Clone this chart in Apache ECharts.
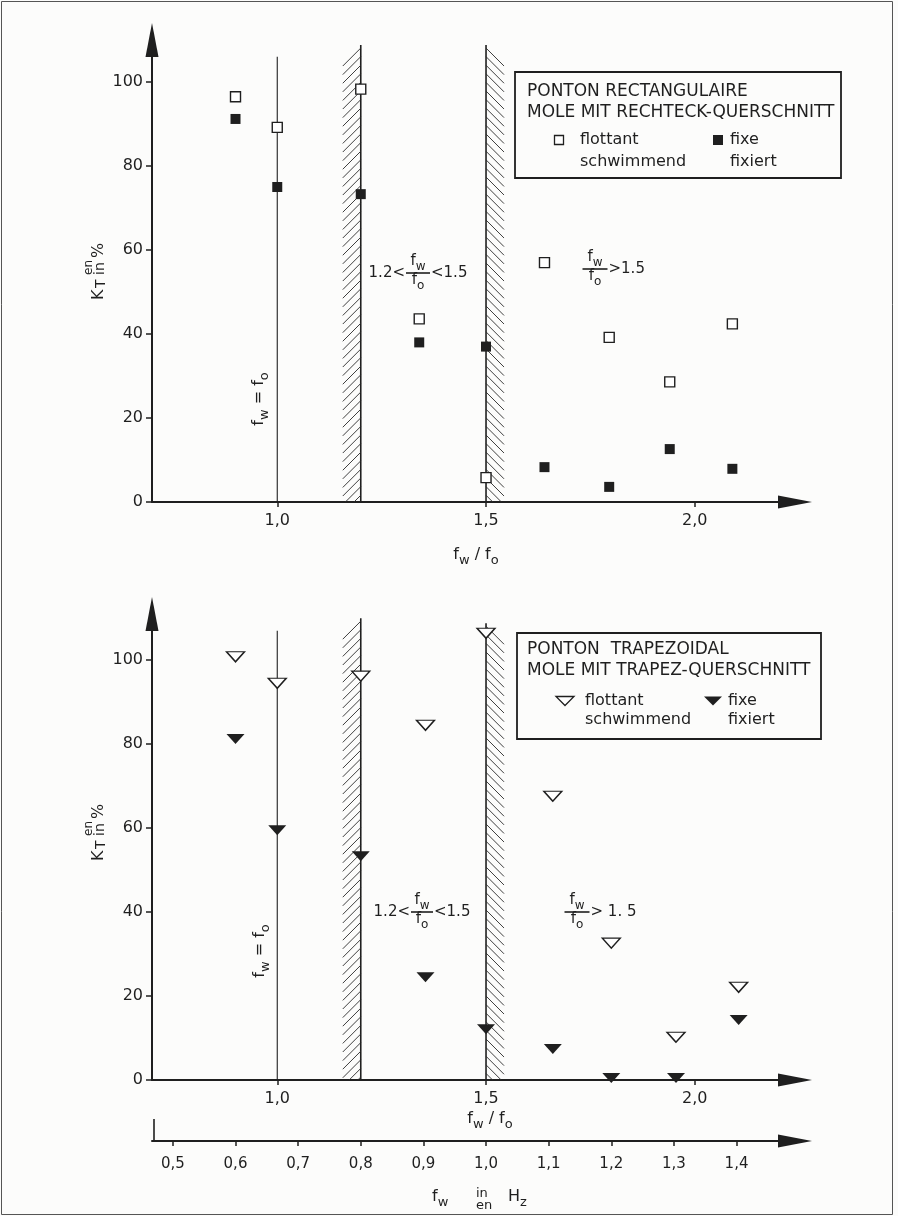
<!DOCTYPE html>
<html>
<head>
<meta charset="utf-8">
<title>KT en/in % - ponton rectangulaire / trapezoidal</title>
<script src="https://cdn.jsdelivr.net/npm/echarts@6.0.0/dist/echarts.min.js"></script>
<style>
  html, body { margin: 0; padding: 0; background: #fcfcfb; }
  #chart { width: 898px; height: 1216px; }
</style>
</head>
<body>
<div id="chart"></div>
<script>
// ---- data (x = fw/fo, y = KT in %) ----
var xRect = [0.9, 1.0, 1.2, 1.34, 1.5, 1.64, 1.795, 1.94, 2.09];
var rectFloating = [96.5, 89.2, 98.3, 43.6, 5.8, 57.0, 39.2, 28.6, 42.4];
var rectFixed = [91.2, 75.0, 73.3, 38.0, 37.0, 8.3, 3.6, 12.6, 7.9];

var xTrap = [0.9, 1.0, 1.2, 1.355, 1.5, 1.66, 1.80, 1.955, 2.105];
var trapFloating = [100.8, 94.5, 96.2, 84.5, 106.4, 67.6, 32.6, 10.2, 22.1];
var trapFixed = [81.2, 59.5, 53.3, 24.5, 12.1, 7.4, 0.5, 0.5, 14.3];

// reference lines: fw = fo, and the hatched limits 1.2 / 1.5
var guideX = 1.0;
var guideTopRect = 106;
var guideTopTrap = 107;
var bandX = [1.2, 1.5];
var bandSide = [-1, 1];
var bandTopRect = [108.8, 108.8];
var bandTopTrap = [110, 108.8];

// axis ticks
var yTicks = [0, 20, 40, 60, 80, 100];
var ratioTicks = [1.0, 1.5, 2.0];
var hzTicks = [0.5, 0.6, 0.7, 0.8, 0.9, 1.0, 1.1, 1.2, 1.3, 1.4];

var X_MIN = 0.7, X_MAX = 2.24;
var FO_HZ = 2 / 3;   // fw/fo = 1.5 <-> 1,0 Hz

var FONT = '"DejaVu Sans", sans-serif';
var INK = '#1f1f1f';

var myChart = echarts.init(document.getElementById('chart'));

function zip(xs, ys) {
    var out = [];
    for (var i = 0; i < xs.length; i++) out.push([xs[i], ys[i]]);
    return out;
}
function bandRows(tops) {
    var out = [];
    for (var i = 0; i < bandX.length; i++) out.push([bandX[i], tops[i], bandSide[i]]);
    return out;
}
function comma(v) {
    return v.toFixed(1).replace('.', ',');
}

// vertical line with diagonal hatching on one side
function renderBand(params, api) {
    var x = api.value(0), top = api.value(1), side = api.value(2);
    var p0 = api.coord([x, 0]), p1 = api.coord([x, top]);
    var w = 18, step = 8.6;
    var children = [{
        type: 'line',
        shape: {x1: p0[0], y1: p0[1], x2: p1[0], y2: p1[1]},
        style: {stroke: INK, lineWidth: 1.6}
    }];
    for (var y = p1[1] + 3; y < p0[1]; y += step) {
        var yEnd = Math.min(y + w, p0[1]);
        var d = yEnd - y;
        children.push({
            type: 'line',
            shape: {x1: p0[0], y1: y, x2: p0[0] + side * d, y2: yEnd},
            style: {stroke: '#2a2a2a', lineWidth: 0.9}
        });
    }
    return {type: 'group', children: children};
}

function ratioAxis(grid) {
    return {
        type: 'value', gridIndex: grid, position: 'bottom', min: X_MIN, max: X_MAX,
        axisLine: {show: true, onZero: false, symbol: ['none', 'triangle'], symbolSize: [13, 34],
            lineStyle: {color: INK, width: 2}},
        axisTick: {show: true, length: 5, customValues: ratioTicks, lineStyle: {color: INK, width: 1.5}},
        axisLabel: {customValues: ratioTicks, formatter: comma, margin: 11,
            fontSize: 16, fontFamily: FONT, color: INK},
        splitLine: {show: false}
    };
}
function ktAxis(grid, max) {
    return {
        type: 'value', gridIndex: grid, position: 'left', min: 0, max: max,
        axisLine: {show: true, onZero: false, symbol: ['none', 'triangle'], symbolSize: [13, 34],
            lineStyle: {color: INK, width: 2}},
        axisTick: {show: true, length: 6, customValues: yTicks, lineStyle: {color: INK, width: 1.5}},
        axisLabel: {customValues: yTicks, margin: 9, fontSize: 16, fontFamily: FONT, color: INK},
        splitLine: {show: false}
    };
}

// ---- text helpers ----
function txt(x, y, text, size, align) {
    return {type: 'text', x: x, y: y, silent: true,
        style: {text: text, fontSize: size, fontFamily: FONT, fill: INK,
            align: align || 'left', verticalAlign: 'middle'}};
}
function richTxt(x, y, text, size, align, rot) {
    return {type: 'text', x: x, y: y, rotation: rot || 0, silent: true,
        style: {text: text, fontFamily: FONT, fontSize: size, fill: INK,
            align: align || 'left', verticalAlign: 'middle',
            rich: {
                n: {fontSize: size, fontFamily: FONT, fill: INK, padding: [0, 0, 6, 0]},
                s: {fontSize: size - 3, fontFamily: FONT, fill: INK, padding: [6, 0, 0, 0]}
            }}};
}
// "pre fw/fo post" with a stacked fraction centred on cx, bar at y
function fraction(cx, y, bw, pre, post, size) {
    var els = [];
    if (pre) els.push(txt(cx - bw / 2 - 1, y, pre, size, 'right'));
    els.push(richTxt(cx, y - 9, '{n|f}{s|w}', size, 'center'));
    els.push({type: 'line', silent: true,
        shape: {x1: cx - bw / 2, y1: y, x2: cx + bw / 2, y2: y},
        style: {stroke: INK, lineWidth: 1.6}});
    els.push(richTxt(cx, y + 10, '{n|f}{s|o}', size, 'center'));
    if (post) els.push(txt(cx + bw / 2 + 1, y, post, size, 'left'));
    return els;
}
// y-axis name: K T with "en" over "in", then %
function ktName(cx, cy) {
    return {type: 'group', x: cx, y: cy, rotation: Math.PI / 2, silent: true, children: [
        txt(-29, 0, 'K', 16, 'left'),
        txt(-17, 2, 'T', 14, 'left'),
        txt(-4, -10, 'en', 12, 'left'),
        txt(-4, 1, 'in', 14, 'left'),
        txt(13, 0, '%', 16, 'left')
    ]};
}
function openSquare(cx, cy) {
    return {type: 'rect', silent: true, shape: {x: cx - 4.5, y: cy - 4.5, width: 9, height: 9},
        style: {fill: '#fff', stroke: INK, lineWidth: 1.3}};
}
function fullSquare(cx, cy) {
    return {type: 'rect', silent: true, shape: {x: cx - 5, y: cy - 5, width: 10, height: 10},
        style: {fill: INK}};
}
function triangleDown(cx, cy, filled) {
    return {type: 'polygon', silent: true,
        shape: {points: [[cx - 9, cy - 4.5], [cx + 9, cy - 4.5], [cx, cy + 4.5]]},
        style: filled ? {fill: INK} : {fill: '#fff', stroke: INK, lineWidth: 1.3}};
}

var graphics = [
    {type: 'rect', silent: true, shape: {x: 1.5, y: 1.5, width: 891, height: 1213},
        style: {fill: 'none', stroke: '#555', lineWidth: 1}},
    // legend top
    {type: 'rect', silent: true, shape: {x: 515, y: 72, width: 326, height: 106},
        style: {fill: 'none', stroke: INK, lineWidth: 1.8}},
    txt(527, 92, 'PONTON RECTANGULAIRE', 17),
    txt(527, 113, 'MOLE MIT RECHTECK-QUERSCHNITT', 17),
    openSquare(559, 140), txt(580, 140, 'flottant', 16), txt(580, 162, 'schwimmend', 16),
    fullSquare(718, 140), txt(730, 140, 'fixe', 16), txt(730, 162, 'fixiert', 16),
    // legend bottom
    {type: 'rect', silent: true, shape: {x: 517, y: 633, width: 304, height: 106},
        style: {fill: 'none', stroke: INK, lineWidth: 1.8}},
    txt(527, 650, 'PONTON  TRAPEZOIDAL', 17),
    txt(527, 671, 'MOLE MIT TRAPEZ-QUERSCHNITT', 17),
    triangleDown(565, 701, false), txt(585, 701, 'flottant', 16), txt(585, 720, 'schwimmend', 16),
    triangleDown(713, 701, true), txt(728, 701, 'fixe', 16), txt(728, 720, 'fixiert', 16),
    // rotated "fw = fo"
    richTxt(262, 399, '{n|f}{s|w}{n| = f}{s|o}', 16, 'center', Math.PI / 2),
    richTxt(263, 951, '{n|f}{s|w}{n| = f}{s|o}', 16, 'center', Math.PI / 2),
    // axis names
    ktName(99, 271),
    ktName(99, 832),
    richTxt(476, 558, '{n|f}{s|w}{n| / f}{s|o}', 16, 'center'),
    richTxt(490, 1122, '{n|f}{s|w}{n| / f}{s|o}', 16, 'center'),
    richTxt(432, 1200, '{n|f}{s|w}', 16, 'left'),
    txt(476, 1194, 'in', 13),
    txt(476, 1206, 'en', 13),
    richTxt(508, 1200, '{n|H}{s|z}', 16, 'left'),
    // start stroke of the Hz axis
    {type: 'line', silent: true, shape: {x1: 154, y1: 1119, x2: 154, y2: 1141},
        style: {stroke: INK, lineWidth: 1.6}}
];
graphics = graphics
    .concat(fraction(418, 273, 24, '1.2<', '<1.5', 15))
    .concat(fraction(595, 269, 25, null, '>1.5', 15))
    .concat(fraction(422, 912, 22, '1.2<', '<1.5', 15))
    .concat(fraction(577, 912, 25, null, '> 1. 5', 15));

var hzAxis = {
    type: 'value', gridIndex: 1, position: 'bottom', offset: 61,
    min: X_MIN * FO_HZ, max: X_MAX * FO_HZ,
    axisLine: {show: true, onZero: false, symbol: ['none', 'triangle'], symbolSize: [13, 34],
        lineStyle: {color: INK, width: 2}},
    axisTick: {show: true, length: 5, customValues: hzTicks, lineStyle: {color: INK, width: 1.5}},
    axisLabel: {customValues: hzTicks, formatter: comma, margin: 16,
        fontSize: 15, fontFamily: FONT, color: INK},
    splitLine: {show: false}
};

var option = {
    backgroundColor: '#fcfcfb',
    animation: false,
    grid: [
        {left: 152, right: 103, top: 40, height: 462},
        {left: 152, right: 103, top: 614, height: 466}
    ],
    xAxis: [ratioAxis(0), ratioAxis(1), hzAxis],
    yAxis: [ktAxis(0, 110), ktAxis(1, 111)],
    graphic: {elements: graphics},
    series: [
        {type: 'line', xAxisIndex: 0, yAxisIndex: 0, silent: true, symbol: 'none', z: 1,
            data: [[guideX, 0], [guideX, guideTopRect]], lineStyle: {color: INK, width: 1.1}},
        {type: 'custom', xAxisIndex: 0, yAxisIndex: 0, silent: true, z: 1,
            renderItem: renderBand, data: bandRows(bandTopRect)},
        {name: 'flottant', type: 'scatter', xAxisIndex: 0, yAxisIndex: 0, z: 5,
            symbol: 'rect', symbolSize: 10, data: zip(xRect, rectFloating),
            itemStyle: {color: '#fff', borderColor: INK, borderWidth: 1.4, opacity: 1}},
        {name: 'fixe', type: 'scatter', xAxisIndex: 0, yAxisIndex: 0, z: 5,
            symbol: 'rect', symbolSize: 10, data: zip(xRect, rectFixed),
            itemStyle: {color: INK, opacity: 1}},

        {type: 'line', xAxisIndex: 1, yAxisIndex: 1, silent: true, symbol: 'none', z: 1,
            data: [[guideX, 0], [guideX, guideTopTrap]], lineStyle: {color: INK, width: 1.1}},
        {type: 'custom', xAxisIndex: 1, yAxisIndex: 1, silent: true, z: 1,
            renderItem: renderBand, data: bandRows(bandTopTrap)},
        {name: 'flottant (trapez)', type: 'scatter', xAxisIndex: 1, yAxisIndex: 1, z: 5,
            symbol: 'triangle', symbolRotate: 180, symbolSize: [18, 10], data: zip(xTrap, trapFloating),
            itemStyle: {color: '#fff', borderColor: INK, borderWidth: 1.4, opacity: 1}},
        {name: 'fixe (trapez)', type: 'scatter', xAxisIndex: 1, yAxisIndex: 1, z: 5,
            symbol: 'triangle', symbolRotate: 180, symbolSize: [18, 10], data: zip(xTrap, trapFixed),
            itemStyle: {color: INK, opacity: 1}}
    ]
};
myChart.setOption(option);
</script>
</body>
</html>
